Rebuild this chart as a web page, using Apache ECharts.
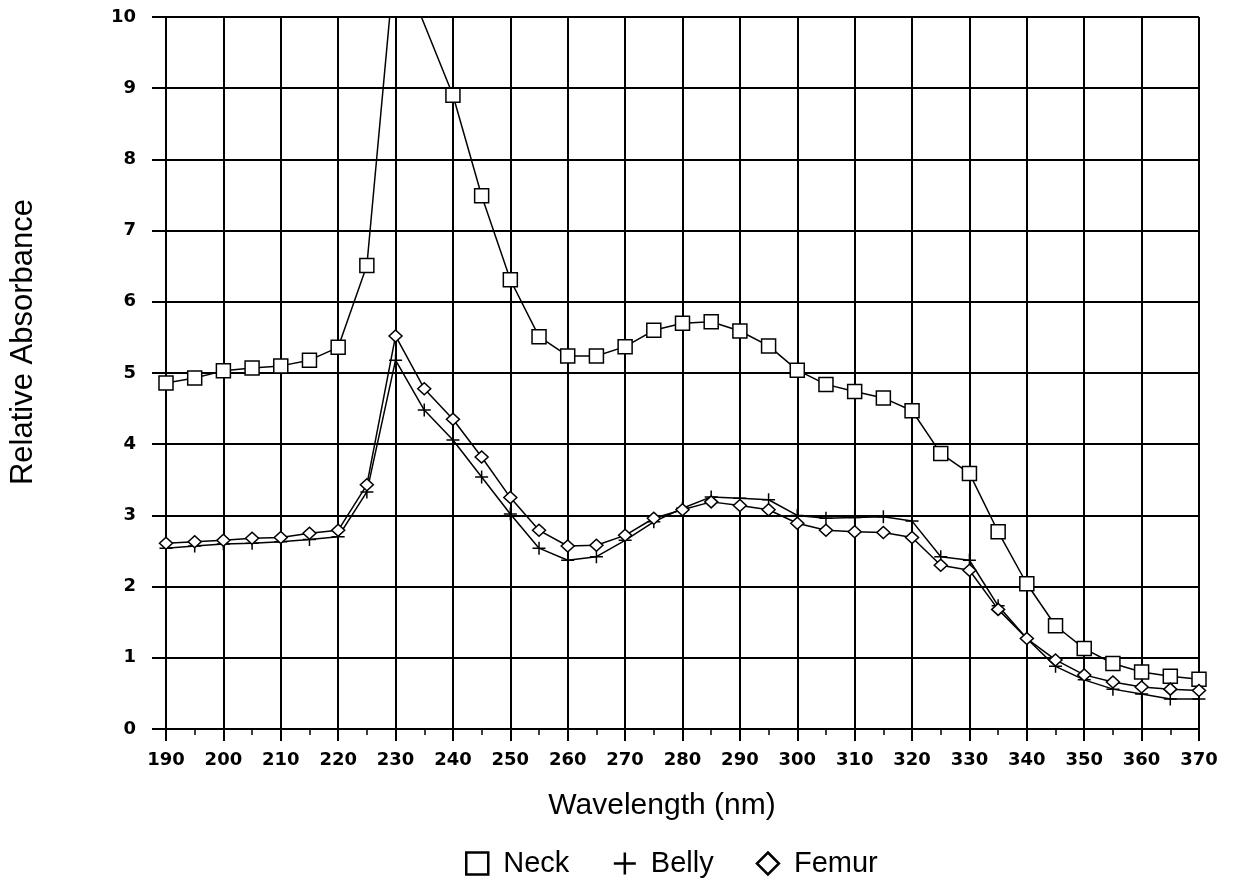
<!DOCTYPE html>
<html>
<head>
<meta charset="utf-8">
<script src="https://cdn.jsdelivr.net/npm/echarts@6/dist/echarts.min.js"></script>
<style>
  html, body { margin: 0; padding: 0; background: #fff; }
  #chart { width: 1237px; height: 884px; }
</style>
</head>
<body>
<div id="chart"></div>
<script>
// wavelength (nm)
var wavelengths = [190, 195, 200, 205, 210, 215, 220, 225, 230, 235, 240, 245, 250, 255, 260, 265, 270, 275, 280,
    285, 290, 295, 300, 305, 310, 315, 320, 325, 330, 335, 340, 345, 350, 355, 360, 365, 370];

// relative absorbance
var neck = [4.86, 4.93, 5.03, 5.07, 5.10, 5.18, 5.36, 6.51, 10.9, null, 8.90, 7.49, 6.31, 5.51, 5.24, 5.24, 5.37, 5.60, 5.70,
    5.72, 5.59, 5.38, 5.04, 4.84, 4.74, 4.65, 4.47, 3.87, 3.59, 2.77, 2.04, 1.45, 1.13, 0.92, 0.80, 0.74, 0.70];
var belly = [2.54, 2.57, 2.60, 2.61, 2.63, 2.66, 2.70, 3.33, 5.18, 4.48, 4.06, 3.54, 3.02, 2.54, 2.37, 2.42, 2.65, 2.91, 3.10,
    3.26, 3.24, 3.22, 3.00, 2.96, 2.97, 2.98, 2.92, 2.42, 2.37, 1.73, 1.27, 0.88, 0.69, 0.56, 0.49, 0.42, 0.42];
var femur = [2.61, 2.63, 2.65, 2.68, 2.69, 2.75, 2.79, 3.43, 5.52, 4.78, 4.35, 3.82, 3.25, 2.79, 2.57, 2.58, 2.72, 2.96, 3.08,
    3.19, 3.14, 3.08, 2.89, 2.79, 2.77, 2.76, 2.69, 2.30, 2.23, 1.68, 1.27, 0.97, 0.76, 0.66, 0.59, 0.56, 0.54];

var plusPath = 'path://M0,10L20,10M10,0L10,20';

function pairs(vals) {
    return wavelengths.map(function (w, i) { return [w, vals[i]]; });
}

var chart = echarts.init(document.getElementById('chart'));

var tickFont = {
    color: '#000',
    fontFamily: 'DejaVu Sans',
    fontWeight: 'bold',
    fontSize: 18
};

var option = {
    backgroundColor: '#fff',
    animation: false,
    grid: {
        left: 166,
        right: 38,
        top: 17,
        bottom: 155,
        containLabel: false,
        outerBoundsMode: 'none'
    },
    xAxis: {
        type: 'value',
        min: 190,
        max: 370,
        interval: 10,
        axisLine: { lineStyle: { color: '#000', width: 2 } },
        axisTick: { show: true, inside: false, length: 12, lineStyle: { color: '#000', width: 2 } },
        minorTick: { show: true, splitNumber: 2, length: 6, lineStyle: { color: '#000', width: 1.5 } },
        axisLabel: Object.assign({ margin: 22 }, tickFont),
        splitLine: { show: true, lineStyle: { color: '#000', width: 2 } }
    },
    yAxis: {
        type: 'value',
        min: 0,
        max: 10,
        interval: 1,
        axisLine: { show: true, lineStyle: { color: '#000', width: 2 } },
        axisTick: { show: true, inside: false, length: 14, lineStyle: { color: '#000', width: 2 } },
        axisLabel: Object.assign({ margin: 30 }, tickFont),
        splitLine: { show: true, lineStyle: { color: '#000', width: 2 } }
    },
    legend: {
        left: 460,
        top: 844,
        itemWidth: 22,
        itemHeight: 22,
        itemGap: 42,
        textStyle: {
            color: '#000',
            fontFamily: 'Liberation Sans',
            fontSize: 29,
            padding: [0, 0, 0, 10]
        },
        data: [
            { name: 'Neck', icon: 'rect', itemStyle: { color: '#fff', borderColor: '#000', borderWidth: 2.5 } },
            { name: 'Belly', icon: plusPath, itemStyle: { color: 'none', borderColor: '#000', borderWidth: 2.5 } },
            { name: 'Femur', icon: 'diamond', itemStyle: { color: '#fff', borderColor: '#000', borderWidth: 2.5 } }
        ]
    },
    graphic: [
        {
            type: 'text',
            x: 662,
            y: 806,
            style: {
                text: 'Wavelength (nm)',
                font: '30px "Liberation Sans"',
                fill: '#000',
                textAlign: 'center',
                textVerticalAlign: 'middle'
            }
        },
        {
            type: 'text',
            x: 23,
            y: 342,
            rotation: Math.PI / 2,
            style: {
                text: 'Relative Absorbance',
                font: '31px "Liberation Sans"',
                fill: '#000',
                textAlign: 'center',
                textVerticalAlign: 'middle'
            }
        }
    ],
    series: [
        {
            name: 'Neck',
            type: 'line',
            data: pairs(neck),
            connectNulls: true,
            symbol: 'rect',
            symbolSize: 14,
            showAllSymbol: true,
            lineStyle: { color: '#000', width: 1.5 },
            itemStyle: { color: '#fff', borderColor: '#000', borderWidth: 1.5 },
            z: 3
        },
        {
            name: 'Belly',
            type: 'line',
            data: pairs(belly),
            symbol: plusPath,
            symbolSize: 13,
            showAllSymbol: true,
            lineStyle: { color: '#000', width: 1.5 },
            itemStyle: { color: 'none', borderColor: '#000', borderWidth: 1.5 },
            z: 3
        },
        {
            name: 'Femur',
            type: 'line',
            data: pairs(femur),
            symbol: 'diamond',
            symbolSize: [13, 12],
            showAllSymbol: true,
            lineStyle: { color: '#000', width: 1.5 },
            itemStyle: { color: '#fff', borderColor: '#000', borderWidth: 1.5 },
            z: 4
        }
    ]
};

chart.setOption(option);
</script>
</body>
</html>
